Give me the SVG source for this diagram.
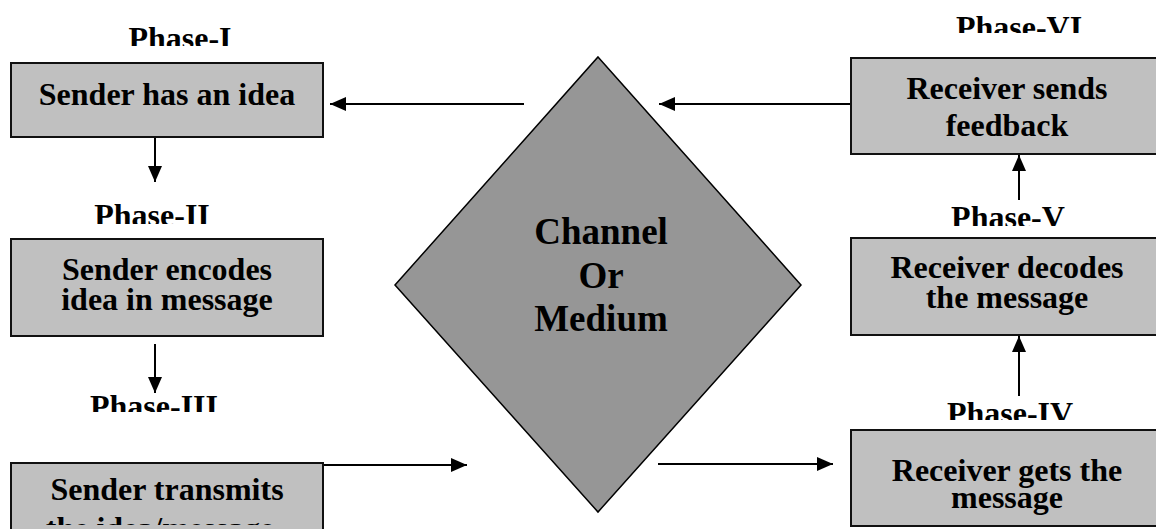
<svg xmlns="http://www.w3.org/2000/svg" width="1156" height="529" viewBox="0 0 1156 529">
<style>
.box{fill:#c0c0c0;stroke:#111;stroke-width:2}
.dia{fill:#969696;stroke:#000;stroke-width:1.5}
.t{font-family:"Liberation Serif","Times New Roman",serif;font-weight:bold;font-size:32px;fill:#000;text-anchor:middle}
.c{font-size:37px}
.con{stroke:#000;stroke-width:2;fill:none;marker-end:url(#ah)}
</style>
<defs>
<marker id="ah" markerUnits="userSpaceOnUse" markerWidth="16" markerHeight="14" refX="16" refY="7" orient="auto">
<path d="M0,0 L16,7 L0,14 Z" fill="#000"/>
</marker>
<clipPath id="cp1"><rect x="0" y="0" width="340" height="46"/></clipPath>
<clipPath id="cp2"><rect x="0" y="190" width="340" height="34"/></clipPath>
<clipPath id="cp3"><rect x="0" y="385" width="340" height="27"/></clipPath>
<clipPath id="cp4"><rect x="840" y="395" width="316" height="25"/></clipPath>
<clipPath id="cp5"><rect x="840" y="195" width="316" height="31"/></clipPath>
<clipPath id="cp6"><rect x="840" y="0" width="316" height="33"/></clipPath>
<clipPath id="cpb3"><rect x="11" y="463" width="312" height="62"/></clipPath>
</defs>
<g id="connectors">
<line class="con" x1="524" y1="104" x2="330" y2="104"/>
<line class="con" x1="851" y1="104" x2="659" y2="104"/>
<line class="con" x1="155" y1="137" x2="155" y2="182"/>
<line class="con" x1="155" y1="344" x2="155" y2="393"/>
<line class="con" x1="323" y1="465" x2="467" y2="465"/>
<line class="con" x1="658" y1="464" x2="833" y2="464"/>
<line class="con" x1="1019" y1="396" x2="1019" y2="336"/>
<line class="con" x1="1019" y1="200" x2="1019" y2="155"/>
</g>
<g id="channel">
<polygon class="dia" points="598,57 801,285 598,512 395,285"/>
<text class="t c" x="601" y="244">Channel</text>
<text class="t c" x="601" y="288">Or</text>
<text class="t c" x="601" y="331">Medium</text>
</g>
<g id="phase1">
<text class="t" x="180" y="49" clip-path="url(#cp1)">Phase-I</text>
<rect class="box" x="11" y="63" width="312" height="74"/>
<text class="t" x="167" y="105">Sender has an idea</text>
</g>
<g id="phase2">
<text class="t" x="152" y="226" clip-path="url(#cp2)">Phase-II</text>
<rect class="box" x="11" y="239" width="312" height="97"/>
<text class="t" x="167" y="280">Sender encodes</text>
<text class="t" x="167" y="310">idea in message</text>
</g>
<g id="phase3">
<text class="t" x="154" y="417" clip-path="url(#cp3)">Phase-III</text>
<rect class="box" x="11" y="463" width="312" height="80"/>
<g clip-path="url(#cpb3)">
<text class="t" x="167" y="500">Sender transmits</text>
<text class="t" x="160" y="539">the idea/message</text>
</g>
</g>
<g id="phase4">
<text class="t" x="1010" y="424" clip-path="url(#cp4)">Phase-IV</text>
<rect class="box" x="851" y="430" width="320" height="96"/>
<text class="t" x="1007" y="481">Receiver gets the</text>
<text class="t" x="1007" y="508">message</text>
</g>
<g id="phase5">
<text class="t" x="1008" y="228" clip-path="url(#cp5)">Phase-V</text>
<rect class="box" x="851" y="238" width="320" height="97"/>
<text class="t" x="1007" y="278">Receiver decodes</text>
<text class="t" x="1007" y="308">the message</text>
</g>
<g id="phase6">
<text class="t" x="1019" y="38" clip-path="url(#cp6)">Phase-VI</text>
<rect class="box" x="851" y="58" width="320" height="96"/>
<text class="t" x="1007" y="99">Receiver sends</text>
<text class="t" x="1007" y="136">feedback</text>
</g>
</svg>
